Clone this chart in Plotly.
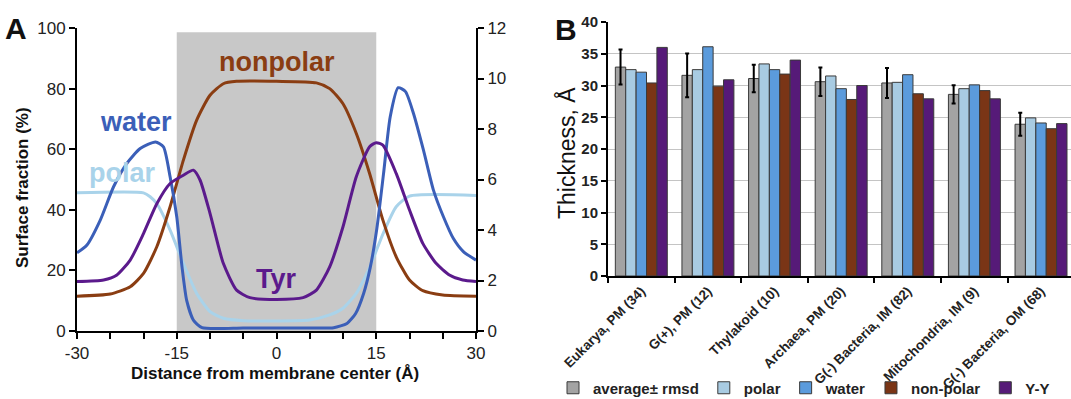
import plotly.graph_objects as go

# ---------------- Panel A data ----------------
water_x = [-30, -28.5, -26.5, -24.5, -22.5, -20.5, -18.2, -17, -16, -15, -14.2, -13.5, -12.5, -11.2,
           -5, 0, 5, 8.6, 10.6, 11.9, 13.1, 14.1, 15.1, 16.1, 17.1, 18.3, 19.4, 20.6, 22.1, 23.6,
           25.1, 26.6, 28.1, 30]
water_y = [25.8, 28.4, 36.6, 47.6, 55.3, 60.2, 62.4, 60.8, 50.9, 37.7, 21, 10, 3.6, 1.1,
           1.0, 1.0, 1.0, 1.1, 2.5, 5.8, 12.4, 21, 34, 52, 70.7, 80.3, 79, 71.8, 59.7, 46.5,
           37.7, 30.5, 26.2, 23.4]

nonpolar_x = [-30, -25, -22, -20, -18, -16, -14, -12, -10, -8, -6, 0, 6, 8, 10, 12, 14, 16, 18, 20,
              22, 25, 30]
nonpolar_y = [11.5, 12.2, 14.6, 19, 27.8, 41, 56.4, 69.6, 77.8, 81.6, 82.4, 82.4, 81.9, 80, 75,
              65.2, 52, 36.6, 24.5, 16.8, 13.3, 11.9, 11.5]

polar_x = [-30, -20, -19, -18, -16, -14, -12, -10, -8, -5, 0, 5, 8, 10, 12, 14, 16, 18, 20, 30]
polar_y = [45.6, 45.6, 44.3, 42, 33.3, 22.3, 12.4, 6.4, 4.2, 3.4, 3.3, 3.6, 5.3, 7.5, 12.4, 21, 32,
           41, 44.5, 44.7]

# Tyr on the right axis (0-12)
tyr_x = [-30, -26, -24, -22, -20, -18, -16, -14, -12.5, -11.5, -10, -8, -6, -4, 0, 4, 6, 8, 10,
         12, 14, 15, 16, 18, 20, 22, 24, 26, 28, 30]
tyr_y = [1.96, 2.02, 2.22, 2.81, 3.86, 5.04, 5.84, 6.17, 6.37, 5.98, 4.66, 2.68, 1.62, 1.32, 1.25,
         1.32, 1.62, 2.54, 4.13, 6.11, 7.30, 7.46, 7.36, 6.24, 4.79, 3.47, 2.68, 2.22, 2.02, 1.96]

x_tickvals = [-30, -15, 0, 15, 30]
x_ticktext = ["-30", "-15", "0", "15", "30"]

# ---------------- Panel B data ----------------
categories = ["Eukarya, PM (34)", "G(+), PM (12)", "Thylakoid (10)", "Archaea, PM (20)",
              "G(-) Bacteria, IM (82)", "Mitochondria, IM (9)", "G(-) Bacteria, OM (68)"]
average = [32.9, 31.6, 31.1, 30.6, 30.4, 28.6, 23.9]
rmsd = [2.75, 3.45, 2.15, 2.25, 2.35, 1.45, 1.8]
polar_b = [32.5, 32.5, 33.4, 31.5, 30.5, 29.5, 24.9]
water_b = [32.1, 36.1, 32.5, 29.5, 31.7, 30.1, 24.1]
nonpolar_b = [30.4, 29.9, 31.8, 27.8, 28.7, 29.2, 23.2]
yy_b = [36.0, 30.9, 34.0, 30.0, 27.9, 27.9, 24.0]

W, H = 1071, 399
FONT = "Liberation Sans, Arial, sans-serif"

fig = go.Figure()

spl = dict(width=3, shape="spline", smoothing=0.6)
fig.add_trace(go.Scatter(x=polar_x, y=polar_y, mode="lines", line=dict(color="#a9d3ea", **spl),
                         xaxis="x", yaxis="y", showlegend=False))
fig.add_trace(go.Scatter(x=nonpolar_x, y=nonpolar_y, mode="lines", line=dict(color="#8a3d12", **spl),
                         xaxis="x", yaxis="y", showlegend=False))
fig.add_trace(go.Scatter(x=tyr_x, y=tyr_y, mode="lines", line=dict(color="#5b1a8c", **spl),
                         xaxis="x", yaxis="y3", showlegend=False))
fig.add_trace(go.Scatter(x=water_x, y=water_y, mode="lines", line=dict(color="#3b5fb8", **spl),
                         xaxis="x", yaxis="y", showlegend=False))

bar_line = dict(color="#3a3a3a", width=1)
fig.add_trace(go.Bar(x=categories, y=average, name="average\u00b1 rmsd", marker=dict(color="#a3a3a3", line=bar_line),
                     error_y=dict(type="data", array=rmsd, color="black", thickness=2, width=2),
                     xaxis="x2", yaxis="y2"))
fig.add_trace(go.Bar(x=categories, y=polar_b, name="polar", marker=dict(color="#a8cbe2", line=bar_line),
                     xaxis="x2", yaxis="y2"))
fig.add_trace(go.Bar(x=categories, y=water_b, name="water", marker=dict(color="#5b9bdc", line=bar_line),
                     xaxis="x2", yaxis="y2"))
fig.add_trace(go.Bar(x=categories, y=nonpolar_b, name="non-polar", marker=dict(color="#7a3516", line=bar_line),
                     xaxis="x2", yaxis="y2"))
fig.add_trace(go.Bar(x=categories, y=yy_b, name="Y-Y", marker=dict(color="#561a78", line=bar_line),
                     xaxis="x2", yaxis="y2"))

xa0, xa1 = 77 / W, 476 / W
ya0, ya1 = (H - 331) / H, (H - 28) / H
xb0, xb1 = 608 / W, 1.0
yb0, yb1 = (H - 276) / H, (H - 22) / H

tickfontA = dict(family=FONT, size=17, color="#222")
axA = dict(showline=True, linecolor="black", linewidth=2, ticks="outside", ticklen=6,
           tickwidth=2, tickcolor="black", showgrid=False, zeroline=False, tickfont=tickfontA,
           automargin=False)
fig.update_layout(
    width=W, height=H,
    margin=dict(l=0, r=0, t=0, b=0, autoexpand=False),
    paper_bgcolor="white", plot_bgcolor="rgba(0,0,0,0)",
    font=dict(family=FONT),
    barmode="group", bargap=0.22, bargroupgap=0,
    xaxis=dict(domain=[xa0, xa1], range=[-30, 30], tickvals=x_tickvals, ticktext=x_ticktext,
               minor=dict(dtick=5, ticks="outside", ticklen=6, tickwidth=2, tickcolor="black"),
               anchor="y", **axA),
    yaxis=dict(domain=[ya0, ya1], range=[0, 100], dtick=20, anchor="x", **axA),
    yaxis3=dict(domain=[ya0, ya1], range=[0, 12], dtick=2, overlaying="y", side="right",
                anchor="x", **axA),
    xaxis2=dict(domain=[xb0, xb1], range=[-0.5, 6.45], anchor="y2", showline=True,
                linecolor="black", linewidth=2, ticks="outside", tickson="boundaries",
                ticklen=5, tickwidth=2, tickcolor="black", tickangle=-45,
                tickfont=dict(family=FONT, size=13.5, color="#222", weight="bold"),
                showgrid=False, automargin=False),
    yaxis2=dict(domain=[yb0, yb1], range=[0, 40], dtick=5, anchor="x2", showline=True,
                linecolor="black", linewidth=2, ticks="outside", ticklen=5, tickwidth=2,
                tickcolor="black", showgrid=True, gridcolor="#c4c4c4", gridwidth=1,
                zeroline=False, automargin=False,
                tickfont=dict(family=FONT, size=15, color="#222", weight="bold")),
    legend=dict(orientation="h", x=553 / W, xanchor="left", y=(H - 388) / H, yanchor="middle",
                font=dict(family=FONT, size=15, color="#222", weight="bold"),
                bgcolor="rgba(0,0,0,0)", itemwidth=30, traceorder="normal"),
    shapes=[dict(type="rect", xref="x", yref="y", x0=-15, x1=15, y0=0, y1=98.6,
                 fillcolor="#c8c8c8", line=dict(width=0), layer="below")],
)

ann = []
def label(text, x, y, color, size=27):
    ann.append(dict(text=text, x=x, y=y, xref="x", yref="y", showarrow=False,
                    xanchor="center", yanchor="middle",
                    font=dict(family=FONT, size=size, color=color, weight="bold")))

label("water", -21.1, 69, "#3b5fb8")
label("polar", -23.2, 52, "#a9d3ea")
label("nonpolar", 0, 88.8, "#8a3d12")
label("Tyr", 0, 17, "#5b1a8c")

def ptext(text, x, y, size, bold=True, angle=0, xanchor="center"):
    f = dict(family=FONT, size=size, color="#111")
    if bold:
        f["weight"] = "bold"
    ann.append(dict(text=text, x=x / W, y=(H - y) / H, xref="paper", yref="paper",
                    xanchor=xanchor, yanchor="middle", textangle=angle, showarrow=False, font=f))

ptext("A", 3, 28, 30, xanchor="left")
ptext("B", 553, 29, 30, xanchor="left")
ptext("Surface fraction (%)", 22, 188, 17, angle=-90)
ptext("Distance from membrane center (\u00c5)", 275, 373, 17)
ptext("Thickness, \u00c5", 566, 153, 23, bold=False, angle=-90)
fig.update_layout(annotations=ann)

fig.write_html("out.html", config={"displayModeBar": False},
               post_script="document.body.style.margin='0';document.body.style.overflow='hidden';")
